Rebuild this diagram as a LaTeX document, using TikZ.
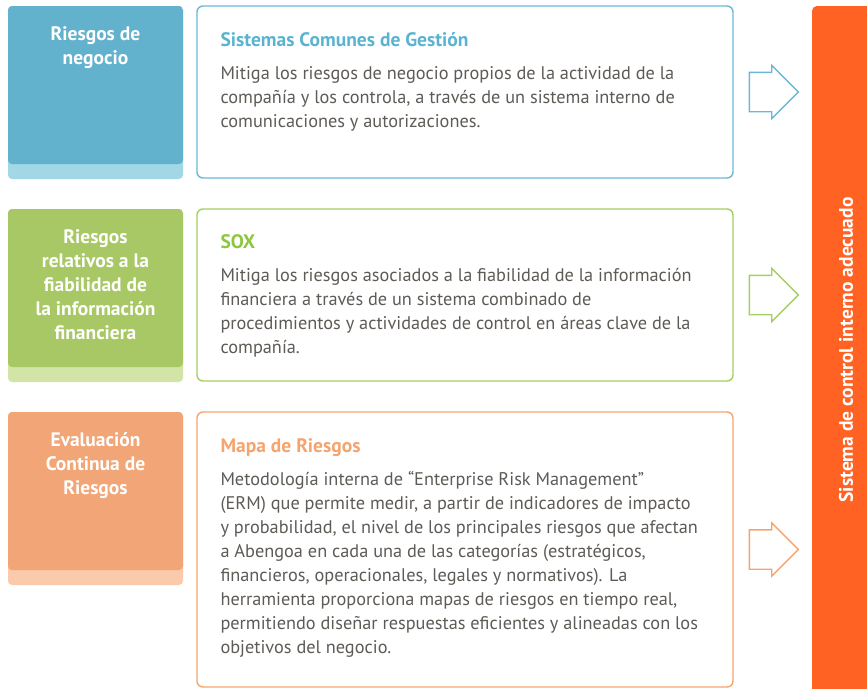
\documentclass[tikz,border=0pt]{standalone}
\usepackage{fontspec}
\setmainfont{PT Sans}
\usetikzlibrary{positioning,shapes.arrows,calc}

\definecolor{blueDark}{HTML}{62B1CD}
\definecolor{blueLight}{HTML}{A2D7E5}
\definecolor{blueLine}{HTML}{6AB8D5}
\definecolor{blueTitle}{HTML}{5AB3D1}
\definecolor{greenDark}{HTML}{A8C865}
\definecolor{greenLight}{HTML}{D3E4A7}
\definecolor{greenLine}{HTML}{A6CE61}
\definecolor{greenTitle}{HTML}{8DC63F}
\definecolor{orangeDark}{HTML}{F2A576}
\definecolor{orangeLight}{HTML}{FACAAB}
\definecolor{orangeLine}{HTML}{F5A46E}
\definecolor{orangeTitle}{HTML}{F4A46E}
\definecolor{barOrange}{HTML}{FF6222}
\definecolor{textGray}{HTML}{5E5A56}

\tikzset{
  riskbox/.style 2 args={rounded corners=4pt, minimum width=175pt, minimum height=173pt,
    inner sep=0pt, fill=#2,
    path picture={\fill[#1] (path picture bounding box.north west) rectangle
      ([yshift=15pt]path picture bounding box.south east);}},
  risklabel/.style={text=white, align=center, inner sep=0pt,
    font=\fontsize{19.5}{24}\selectfont\bfseries},
  infobox/.style={draw=#1, line width=1.4pt, rounded corners=6pt, minimum width=536pt, inner sep=0pt},
  infotitle/.style={text=#1, anchor=base west, inner sep=0pt,
    font=\fontsize{19.5}{24}\selectfont\bfseries},
  infotext/.style={text=textGray, align=left, anchor=north west, inner sep=0pt,
    font=\fontsize{18.3}{24}\selectfont},
  blockarrow/.style={single arrow, draw=#1, fill=white, line width=1.4pt, minimum height=49pt,
    inner xsep=0pt, inner ysep=19pt, single arrow head extend=7pt, single arrow tip angle=90,
    anchor=tail},
}

\begin{document}
\begin{tikzpicture}[x=1pt,y=-1pt]
    \useasboundingbox (0,0) rectangle (867,688);

    % left column
    \node[riskbox={blueDark}{blueLight}] (risk1) at (95.5,92.5) {};
    \node[riskbox={greenDark}{greenLight}] (risk2) at (95.5,295.5) {};
    \node[riskbox={orangeDark}{orangeLight}] (risk3) at (95.5,498.5) {};
    \node[risklabel, below=18pt of risk1.north] (risk1label) {\strut Riesgos de\\negocio};
    \node[risklabel, below=18pt of risk2.north] (risk2label) {\strut Riesgos\\relativos a la\\fiabilidad de\\la información\\financiera};
    \node[risklabel, below=18pt of risk3.north] (risk3label) {\strut Evaluación\\Continua de\\Riesgos};

    % middle column
    \node[infobox=blueLine, minimum height=172pt] (info1) at (465,92) {};
    \node[infobox=greenLine, minimum height=172pt] (info2) at (465,295) {};
    \node[infobox=orangeLine, minimum height=275pt] (info3) at (465,549.5) {};

    \node[infotitle=blueTitle] (info1title) at ($(info1.north west)+(24,41)$) {Sistemas Comunes de Gestión};
    \node[infotext] (info1text) at ($(info1.north west)+(24,57)$) {\strut Mitiga los riesgos de negocio propios de la actividad de la\\
        compañía y los controla, a través de un sistema interno de\\
        comunicaciones y autorizaciones.};

    \node[infotitle=greenTitle] (info2title) at ($(info2.north west)+(24,40)$) {SOX};
    \node[infotext] (info2text) at ($(info2.north west)+(24,56)$) {\strut Mitiga los riesgos asociados a la fiabilidad de la información\\
        financiera a través de un sistema combinado de\\
        procedimientos y actividades de control en áreas clave de la\\
        compañía.};

    \node[infotitle=orangeTitle] (info3title) at ($(info3.north west)+(24,41)$) {Mapa de Riesgos};
    \node[infotext] (info3text) at ($(info3.north west)+(24,57)$) {\strut Metodología interna de “Enterprise Risk Management”\\
        (ERM) que permite medir, a partir de indicadores de impacto\\
        y probabilidad, el nivel de los principales riesgos que afectan\\
        a Abengoa en cada una de las categorías (estratégicos,\\
        financieros, operacionales, legales y normativos). La\\
        herramienta proporciona mapas de riesgos en tiempo real,\\
        permitiendo diseñar respuestas eficientes y alineadas con los\\
        objetivos del negocio.};

    % right bar
    \node[fill=barOrange, rounded corners=5pt, minimum width=70pt, minimum height=688pt, inner sep=0pt] (bar) at (847,350) {};
    \node[rotate=90, text=white, inner sep=0pt, font=\fontsize{19.5}{24}\selectfont\bfseries] (barlabel) at ($(bar.center)+(-1,0)$) {Sistema de control interno adecuado};

    % arrows
    \node[blockarrow=blueLine] (arrow1) at ($(info1.east)+(15,0)$) {};
    \node[blockarrow=greenLine] (arrow2) at ($(info2.east)+(15,0)$) {};
    \node[blockarrow=orangeLine] (arrow3) at ($(info3.east)+(15,0)$) {};
\end{tikzpicture}
\end{document}
